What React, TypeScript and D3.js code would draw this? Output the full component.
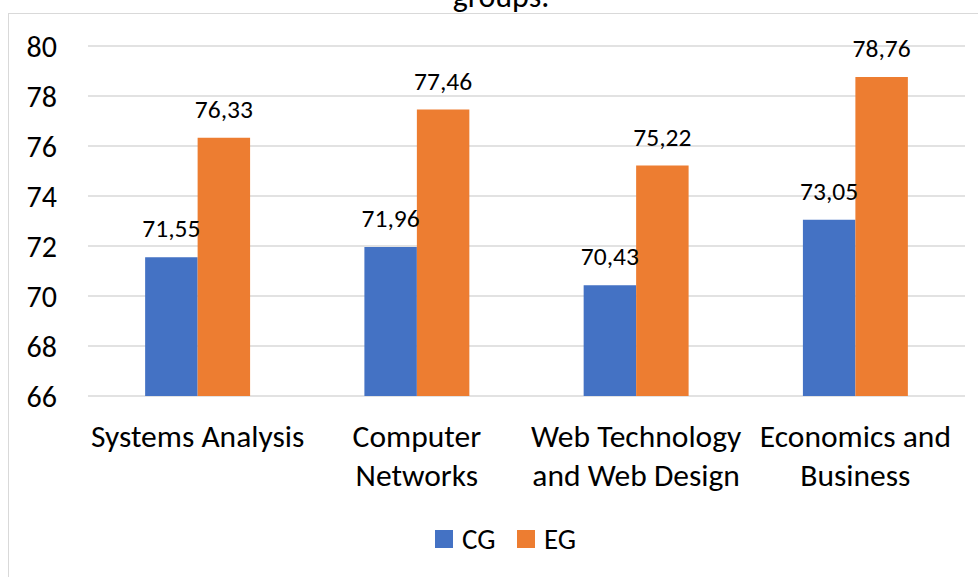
import React from "react";
import * as d3 from "d3";

const categories: string[][] = [
  ["Systems Analysis"],
  ["Computer", "Networks"],
  ["Web Technology", "and Web Design"],
  ["Economics and", "Business"],
];
const cgValues = [71.55, 71.96, 70.43, 73.05];
const egValues = [76.33, 77.46, 75.22, 78.76];
const seriesNames = ["CG", "EG"];
const seriesColors = ["#4472C4", "#ED7D31"];
const yTicks = [66, 68, 70, 72, 74, 76, 78, 80];

const W = 978;
const H = 577;
const FONT = "Carlito, Calibri, Lato, 'Open Sans', sans-serif";

export default function App() {
  const left = 88;
  const right = 965;
  const top = 46;
  const bottom = 396;

  const x0 = d3
    .scaleBand<number>()
    .domain(categories.map((_, i) => i))
    .range([left, right])
    .paddingInner(0.5213)
    .paddingOuter(0.2606);
  const x1 = d3.scaleBand<number>().domain([0, 1]).range([0, x0.bandwidth()]);
  const y = d3.scaleLinear().domain([66, 80]).range([bottom, top]);

  const fmt = (v: number) => v.toFixed(2).replace(".", ",");
  const series = [cgValues, egValues];

  return (
    <svg
      width={W}
      height={H}
      style={{ position: "absolute", left: 0, top: 0, background: "#fff" }}
      fontFamily={FONT}
    >
      <rect x={0} y={0} width={W} height={H} fill="#fff" />
      <rect x={8.5} y={13.5} width={W + 10} height={H + 10} fill="none" stroke="#d9d9d9" strokeWidth={1} />
      <text x={501} y={7} textAnchor="middle" fontSize={32} fill="#000">
        groups.
      </text>
      {yTicks.map((t) => (
        <g key={t}>
          <line x1={left} x2={right} y1={y(t)} y2={y(t)} stroke="#d9d9d9" strokeWidth={1.5} />
          <text x={57} y={y(t)} dy="0.36em" textAnchor="end" fontSize={30} fill="#000">
            {t}
          </text>
        </g>
      ))}
      {categories.map((_, ci) => (
        <g key={ci} transform={`translate(${x0(ci)},0)`}>
          {series.map((vals, si) => (
            <rect
              key={si}
              x={x1(si)}
              y={y(vals[ci])}
              width={x1.bandwidth()}
              height={y(66) - y(vals[ci])}
              fill={seriesColors[si]}
            />
          ))}
          {series.map((vals, si) => (
            <text
              key={"l" + si}
              x={(x1(si) as number) + x1.bandwidth() / 2}
              y={y(vals[ci]) - 20}
              textAnchor="middle"
              fontSize={25.5}
              fill="#000"
            >
              {fmt(vals[ci])}
            </text>
          ))}
        </g>
      ))}
      {categories.map((lines, ci) => (
        <text
          key={"c" + ci}
          x={(x0(ci) as number) + x0.bandwidth() / 2}
          textAnchor="middle"
          fontSize={31.5}
          fill="#000"
        >
          {lines.map((ln, li) => (
            <tspan key={li} x={(x0(ci) as number) + x0.bandwidth() / 2} y={447 + li * 38.5}>
              {ln}
            </tspan>
          ))}
        </text>
      ))}
      {seriesNames.map((n, i) => (
        <g key={n} transform={`translate(${435 + i * 82},530)`}>
          <rect x={0} y={0} width={18} height={18} fill={seriesColors[i]} />
          <text x={27} y={9} dy="0.36em" fontSize={29} fill="#000">
            {n}
          </text>
        </g>
      ))}
    </svg>
  );
}
